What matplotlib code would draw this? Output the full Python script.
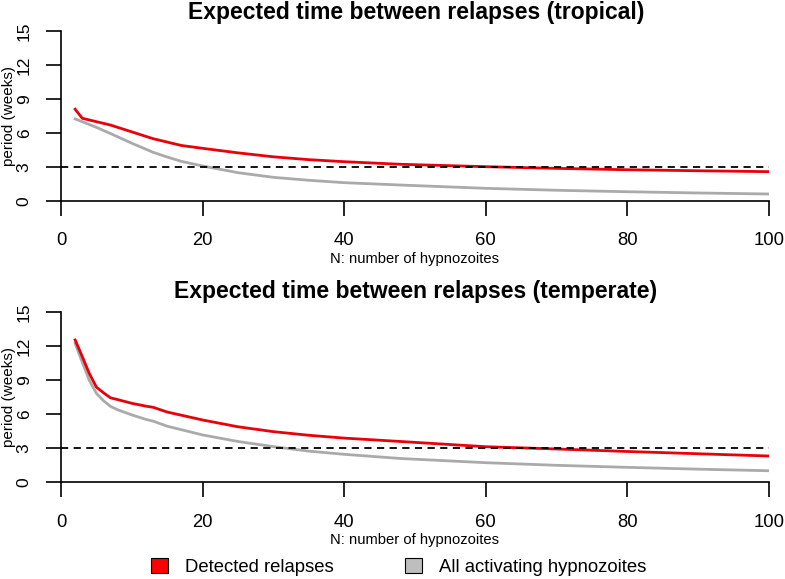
import matplotlib
matplotlib.use("Agg")
import matplotlib.pyplot as plt
from matplotlib.patches import Patch

plt.rcParams['font.family'] = ['Liberation Sans', 'DejaVu Sans']

# N: number of hypnozoites
n_trop = [2, 3, 5, 7, 10, 13, 15, 17, 20, 25, 30, 35, 40, 48, 60, 70, 80, 90, 100]
detected_trop = [8.1, 7.3, 7.0, 6.7, 6.1, 5.5, 5.2, 4.9, 4.65, 4.25, 3.9, 3.65, 3.47, 3.24, 3.03, 2.88, 2.76, 2.67, 2.59]
all_trop = [7.24, 7.0, 6.5, 5.95, 5.1, 4.3, 3.88, 3.5, 3.09, 2.5, 2.09, 1.83, 1.62, 1.41, 1.12, 0.95, 0.82, 0.71, 0.62]

n_temp = [2, 3, 4, 5, 6, 7, 8, 10, 12, 13, 15, 20, 25, 30, 35, 40, 48, 60, 70, 80, 90, 100]
detected_temp = [12.56, 11.1, 9.6, 8.4, 7.9, 7.45, 7.3, 6.97, 6.72, 6.62, 6.2, 5.5, 4.9, 4.47, 4.15, 3.9, 3.6, 3.14, 2.94, 2.72, 2.52, 2.32]
all_temp = [12.26, 10.6, 9.0, 7.85, 7.2, 6.7, 6.4, 5.95, 5.55, 5.4, 4.95, 4.18, 3.6, 3.15, 2.75, 2.47, 2.1, 1.73, 1.5, 1.32, 1.16, 1.02]

threshold = 3
yticks = [0, 3, 6, 9, 12, 15]
xticks = [0, 20, 40, 60, 80, 100]

red = '#e8000b'
grey = '#aaaaaa'

fig = plt.figure(figsize=(7.85, 5.79), dpi=100)
ax1 = fig.add_axes([0.0777, 0.6528, 0.9019, 0.2937])
ax2 = fig.add_axes([0.0777, 0.1670, 0.9019, 0.2936])


def draw_panel(ax, n, det, allh, title, title_y, xlab_y):
    ax.plot(n, allh, color=grey, lw=2, solid_joinstyle='round')
    ax.plot(n, det, color=red, lw=2, solid_joinstyle='round')
    ax.plot([0, 100], [threshold, threshold], color='black', lw=1.3, ls=(0, (4, 3)))
    ax.set_xlim(0, 100)
    ax.set_ylim(0, 15)
    ax.set_xticks(xticks)
    ax.set_yticks(yticks)
    ax.spines['top'].set_visible(False)
    ax.spines['right'].set_visible(False)
    ax.spines['left'].set_linewidth(1.2)
    ax.spines['bottom'].set_linewidth(1.2)
    ax.tick_params(axis='x', length=11, width=1.2, pad=11.5, labelsize=13.3)
    ax.tick_params(axis='y', length=11, width=1.2, pad=10, labelsize=12.5)
    for lab in ax.get_yticklabels():
        lab.set_rotation(90)
        lab.set_va('center')
    box = ax.get_position()
    fig.text(0.012, (box.y0 + box.y1) / 2, 'period (weeks)', rotation=90,
             ha='center', va='center', fontsize=11)
    fig.text((box.x0 + box.x1) / 2, xlab_y, 'N: number of hypnozoites',
             ha='center', va='center', fontsize=10.6)
    fig.text((box.x0 + box.x1) / 2 + 0.001, title_y, title, ha='center', va='center',
             fontsize=16.5, fontweight='bold')


draw_panel(ax1, n_trop, detected_trop, all_trop,
           'Expected time between relapses (tropical)', 0.978, 0.553)
draw_panel(ax2, n_temp, detected_temp, all_temp,
           'Expected time between relapses (temperate)', 0.496, 0.067)

handles = [Patch(facecolor='red', edgecolor='black', linewidth=0.8),
           Patch(facecolor='#bebebe', edgecolor='black', linewidth=0.8)]
fig.legend(handles, ['Detected relapses', 'All activating hypnozoites'],
           loc='center', bbox_to_anchor=(0.508, 0.021), ncol=2, frameon=False,
           fontsize=13.3, handlelength=0.9, handleheight=0.9, columnspacing=3.9,
           handletextpad=0.9, borderpad=0)

fig.savefig('out.png', dpi=100)
